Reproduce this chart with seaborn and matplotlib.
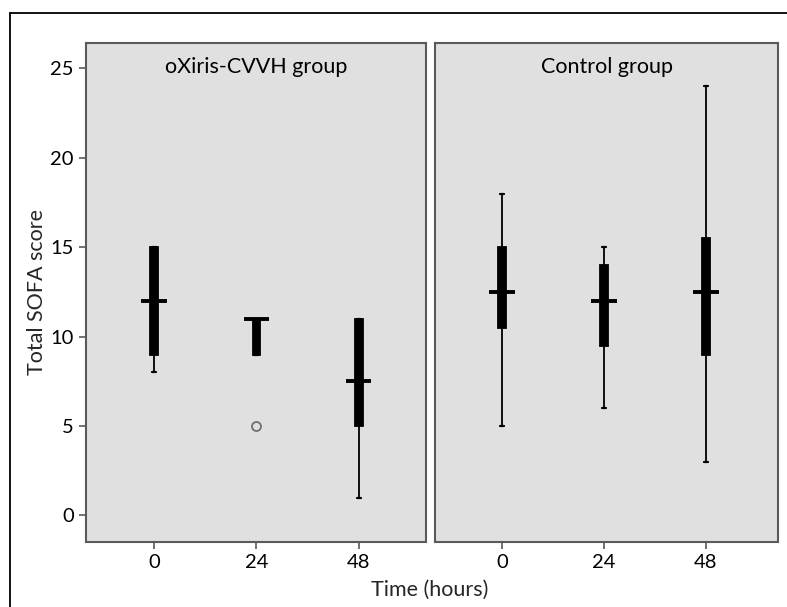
import matplotlib
matplotlib.use("Agg")
import matplotlib.pyplot as plt
from matplotlib.lines import Line2D
import seaborn as sns
import pandas as pd

# ---- data (per time point: min, Q1, median, Q3, max) ----
times = ["0", "24", "48"]
groups = ["oXiris-CVVH group", "Control group"]

oxiris_min = [8, 5, 1]        # 5 at 24 h is the outlier observation
oxiris_q1 = [9, 9, 5]
oxiris_median = [12, 11, 7.5]
oxiris_q3 = [15, 11, 11]
oxiris_max = [15, 11, 11]

control_min = [5, 6, 3]
control_q1 = [10.5, 9.5, 9]
control_median = [12.5, 12, 12.5]
control_q3 = [15, 14, 15.5]
control_max = [18, 15, 24]

y_ticks = [0, 5, 10, 15, 20, 25]

rows = []
for g, cols in [(groups[0], [oxiris_min, oxiris_q1, oxiris_median, oxiris_q3, oxiris_max]),
                (groups[1], [control_min, control_q1, control_median, control_q3, control_max])]:
    for i, t in enumerate(times):
        for c in cols:
            rows.append({"group": g, "time": t, "score": c[i]})
df = pd.DataFrame(rows)

sns.set_theme(style="white")
plt.rcParams["font.family"] = ["Lato", "DejaVu Sans"]

W, H = 787, 607
fig = plt.figure(figsize=(W / 100, H / 100), dpi=100)

panels = [(86, 426), (435, 778)]
xlims = [(-0.665, 2.658), (-0.657, 2.706)]
top, bottom = 43, 541.5
panel_bg = "#e0e0e0"
spine_col = "#5a5a5a"
tick_fs = 14.5
label_fs = 15.5

for k, (g, (x0, x1)) in enumerate(zip(groups, panels)):
    ax = fig.add_axes([x0 / W, (H - bottom) / H, (x1 - x0) / W, (bottom - top) / H])
    ax.set_facecolor(panel_bg)
    sub = df[df["group"] == g]
    # boxes + whiskers + outliers
    sns.boxplot(data=sub, x="time", y="score", order=times, ax=ax,
                width=0.075, color="black", linecolor="black", saturation=1,
                linewidth=1.3, whis=1.5,
                medianprops={"visible": False},
                capprops={"linewidth": 1.6},
                flierprops={"marker": "o", "markersize": 6.5, "markerfacecolor": "none",
                            "markeredgecolor": "#707070", "markeredgewidth": 1.3})
    # wide median bars
    sns.boxplot(data=sub, x="time", y="score", order=times, ax=ax,
                width=0.25, color="black", linecolor="black", saturation=1,
                showbox=False, showcaps=False, showfliers=False,
                whiskerprops={"visible": False},
                medianprops={"linewidth": 2.8, "color": "black", "solid_capstyle": "butt"})
    ax.set_ylim(-1.455, 26.42)
    ax.set_xlim(*xlims[k])
    ax.set_xlabel("")
    ax.set_ylabel("")
    ax.set_xticks(range(len(times)))
    ax.set_xticklabels(times, fontsize=tick_fs)
    for s in ax.spines.values():
        s.set_visible(True)
        s.set_color(spine_col)
        s.set_linewidth(1.5)
    ax.tick_params(axis="x", direction="out", length=4.8, width=1.2, color=spine_col,
                   bottom=True, pad=4, labelcolor="black")
    if k == 0:
        ax.set_yticks(y_ticks)
        ax.set_yticklabels([str(v) for v in y_ticks], fontsize=tick_fs)
        ax.tick_params(axis="y", direction="out", length=4.8, width=1.2, color=spine_col,
                       left=True, pad=4, labelcolor="black")
    else:
        ax.set_yticks([])
    ax.text(0.5, 1 - 24 / (bottom - top), g, transform=ax.transAxes, ha="center",
            va="center", fontsize=label_fs, color="black")

fig.text(37 / W, 1 - 292 / H, "Total SOFA score", rotation=90, ha="center",
         va="center", fontsize=label_fs)
fig.text(430 / W, 1 - 590 / H, "Time (hours)", ha="center", va="center", fontsize=label_fs)

# outer frame (top and left edges)
fig.add_artist(Line2D([10 / W, 1.0], [1 - 13 / H, 1 - 13 / H], color="black",
                      linewidth=1.3, transform=fig.transFigure))
fig.add_artist(Line2D([10 / W, 10 / W], [1 - 13 / H, 0.0], color="black",
                      linewidth=1.3, transform=fig.transFigure))

fig.savefig("out.png", dpi=100, facecolor="white")
